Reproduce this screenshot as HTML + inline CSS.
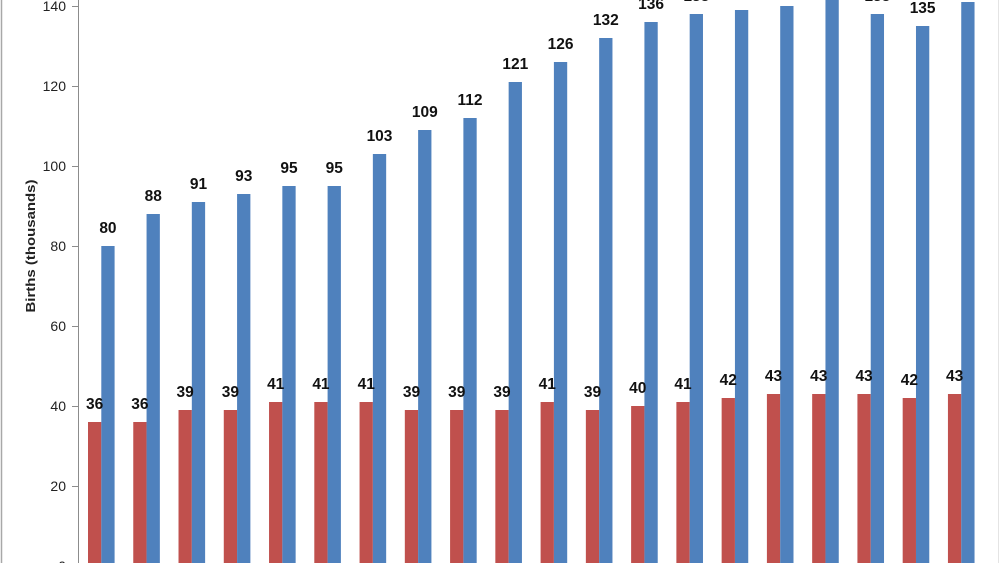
<!DOCTYPE html>
<html>
<head>
<meta charset="utf-8">
<style>
  html,body{margin:0;padding:0;background:#fff;}
  svg{display:block;}
  text{font-family:"Liberation Sans",Arial,sans-serif;}
</style>
</head>
<body>
<svg width="1000" height="563" viewBox="0 0 1000 563" xmlns="http://www.w3.org/2000/svg">
  <rect x="0" y="0" width="1000" height="563" fill="#ffffff"/>
  <line x1="1.5" y1="0" x2="1.5" y2="563" stroke="#a8a8a8" stroke-width="1.5"/>
  <line x1="998.5" y1="0" x2="998.5" y2="563" stroke="#e4e4e4" stroke-width="1"/>

  <!-- y axis -->
  <line x1="78.5" y1="0" x2="78.5" y2="563" stroke="#8c8c8c" stroke-width="1"/>
  <g stroke="#8c8c8c" stroke-width="1">
    <line x1="72" y1="6.5" x2="78.5" y2="6.5"/>
    <line x1="72" y1="86.5" x2="78.5" y2="86.5"/>
    <line x1="72" y1="166.5" x2="78.5" y2="166.5"/>
    <line x1="72" y1="246.5" x2="78.5" y2="246.5"/>
    <line x1="72" y1="326.5" x2="78.5" y2="326.5"/>
    <line x1="72" y1="406.5" x2="78.5" y2="406.5"/>
    <line x1="72" y1="486.5" x2="78.5" y2="486.5"/>
  </g>
  <g font-size="14" fill="#222" text-anchor="end">
    <text x="66" y="11">140</text>
    <text x="66" y="91">120</text>
    <text x="66" y="171">100</text>
    <text x="66" y="251">80</text>
    <text x="66" y="331">60</text>
    <text x="66" y="411">40</text>
    <text x="66" y="491">20</text>
    <text x="66" y="571">0</text>
  </g>
  <text x="0" y="0" transform="translate(35,246) rotate(-90)" font-size="13" font-weight="bold" fill="#222" text-anchor="middle" textLength="133" lengthAdjust="spacingAndGlyphs">Births (thousands)</text>

  <g id="bars"></g>
  <g id="labels"></g>

  <!-- bars generated inline -->
  <g>
  </g>
</svg>
<script>
(function(){
  var blue=[80,88,91,93,95,95,103,109,112,121,126,132,136,138,139,140,143,138,135,141];
  var red=[36,36,39,39,41,41,41,39,39,39,41,39,40,41,42,43,43,43,42,43];
  var ns="http://www.w3.org/2000/svg";
  var bars=document.getElementById("bars"), labels=document.getElementById("labels");
  var base=566, k=4, pitch=45.26, w=13.3;
  function rect(x,y,wd,h,c){var r=document.createElementNS(ns,"rect");r.setAttribute("x",x);r.setAttribute("y",y);r.setAttribute("width",wd);r.setAttribute("height",h);r.setAttribute("fill",c);bars.appendChild(r);}
  function txt(x,y,s){var t=document.createElementNS(ns,"text");t.setAttribute("x",x);t.setAttribute("y",y);t.setAttribute("font-size","15.5");t.setAttribute("font-weight","bold");t.setAttribute("fill","#111");t.setAttribute("text-anchor","middle");t.textContent=s;labels.appendChild(t);}
  for(var i=0;i<20;i++){
    var rx=88+i*pitch, bx=rx+w;
    var rt=base-red[i]*k, bt=base-blue[i]*k;
    rect(rx,rt,w,base-rt,"#C0504D");
    rect(bx,bt,w,base-bt,"#4F81BD");
    txt(rx+w/2,rt-13,String(red[i]));
    txt(bx+w/2,bt-13,String(blue[i]));
  }
})();
</script>
</body>
</html>
